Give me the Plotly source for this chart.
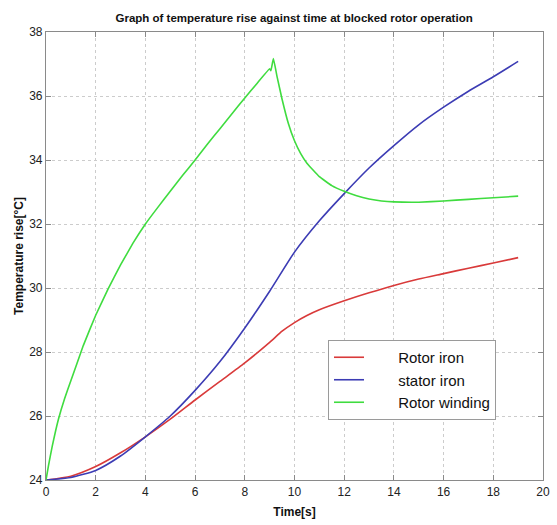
import plotly.graph_objects as go

# Time points (s)
t_rotor_iron = [0, 1, 2, 3, 4, 5, 6, 7, 8, 9, 9.5, 10, 10.5, 11, 12, 13, 14, 15, 16, 17, 18, 19]
rotor_iron = [24.0, 24.12, 24.42, 24.85, 25.35, 25.9, 26.5, 27.08, 27.66, 28.3, 28.65,
              28.92, 29.14, 29.32, 29.6, 29.85, 30.08, 30.28, 30.45, 30.62, 30.78, 30.95]

t_stator_iron = [0, 1, 2, 3, 4, 5, 6, 7, 8, 9, 10, 11, 12, 13, 14, 15, 16, 17, 18, 19]
stator_iron = [24.0, 24.08, 24.3, 24.75, 25.35, 26.0, 26.8, 27.7, 28.75, 29.9,
               31.12, 32.1, 32.95, 33.75, 34.45, 35.1, 35.65, 36.15, 36.6, 37.08]

t_rotor_winding = [0, 0.1, 0.25, 0.5, 0.75, 1.0, 1.5, 2.0, 2.5, 3.0, 3.5, 4.0, 4.5, 5.0,
                   5.5, 6.0, 6.5, 7.0, 7.5, 8.0, 8.5, 9.0, 9.05, 9.15, 9.3, 9.5, 9.75,
                   10.0, 10.25, 10.5, 11.0, 11.5, 12.0, 12.5, 13.0, 13.5, 14.0, 15.0,
                   16.0, 17.0, 18.0, 19.0]
rotor_winding = [24.0, 24.45, 25.05, 25.9, 26.55, 27.1, 28.2, 29.15, 29.97, 30.72,
                 31.4, 32.0, 32.52, 33.02, 33.52, 34.0, 34.5, 34.98, 35.46, 35.94,
                 36.4, 36.85, 36.79, 37.17, 36.6, 35.9, 35.15, 34.6, 34.2, 33.9,
                 33.48, 33.2, 33.02, 32.88, 32.78, 32.72, 32.69, 32.68, 32.72, 32.77,
                 32.82, 32.87]

x_ticks = [0, 2, 4, 6, 8, 10, 12, 14, 16, 18, 20]
y_ticks = [24, 26, 28, 30, 32, 34, 36, 38]

pad = "\u00a0" * 7
fig = go.Figure()
fig.add_trace(go.Scatter(x=t_rotor_iron, y=rotor_iron, mode="lines",
                         name=pad + "Rotor iron",
                         line=dict(color="#d93a3a", width=1.6, shape="spline", smoothing=0.6)))
fig.add_trace(go.Scatter(x=t_stator_iron, y=stator_iron, mode="lines",
                         name=pad + "stator iron",
                         line=dict(color="#3c3cb4", width=1.6, shape="spline", smoothing=0.6)))
fig.add_trace(go.Scatter(x=t_rotor_winding, y=rotor_winding, mode="lines",
                         name=pad + "Rotor winding",
                         line=dict(color="#3fdc3f", width=1.6, shape="spline", smoothing=0.3)))

axis_common = dict(
    showgrid=True, gridcolor="#cccccc", griddash="dot", gridwidth=1,
    showline=True, linecolor="#8a8a8a", linewidth=1.2, mirror="ticks",
    ticks="inside", ticklen=5, tickcolor="#8a8a8a",
    zeroline=False, automargin=False,
    tickfont=dict(family="Liberation Sans, Arial", size=12, color="#222"),
)

fig.update_xaxes(range=[0, 20], tickvals=x_ticks, ticktext=[str(v) for v in x_ticks],
                 ticklabeloverflow="allow",
                 title=dict(text="<b>Time[s]</b>", font=dict(family="Liberation Sans, Arial", size=12, color="#111"), standoff=10),
                 **axis_common)
fig.update_yaxes(range=[24, 38], tickvals=y_ticks, ticktext=[str(v) for v in y_ticks],
                 ticklabeloverflow="allow",
                 title=dict(text="<b>Temperature rise[°C]</b>", font=dict(family="Liberation Sans, Arial", size=12, color="#111"), standoff=2),
                 **axis_common)

fig.update_layout(
    width=557, height=525,
    margin=dict(l=46, r=14, t=32, b=45),
    paper_bgcolor="white", plot_bgcolor="white",
    title=dict(text="<b>Graph of temperature rise against time at blocked rotor operation</b>",
               font=dict(family="Liberation Sans, Arial", size=11.5, color="#111"),
               x=0.528, xanchor="center", y=0.966, yanchor="middle"),
    legend=dict(x=(328 - 46) / 497, y=0.3125, xanchor="left", yanchor="top",
                bgcolor="white", bordercolor="#9a9a9a", borderwidth=1,
                font=dict(family="Liberation Sans, Arial", size=15, color="#111"),
                tracegroupgap=0, itemwidth=30),
    showlegend=True,
)

fig.write_html("out.html", config={"displayModeBar": False},
               post_script="document.body.style.margin='0';")
